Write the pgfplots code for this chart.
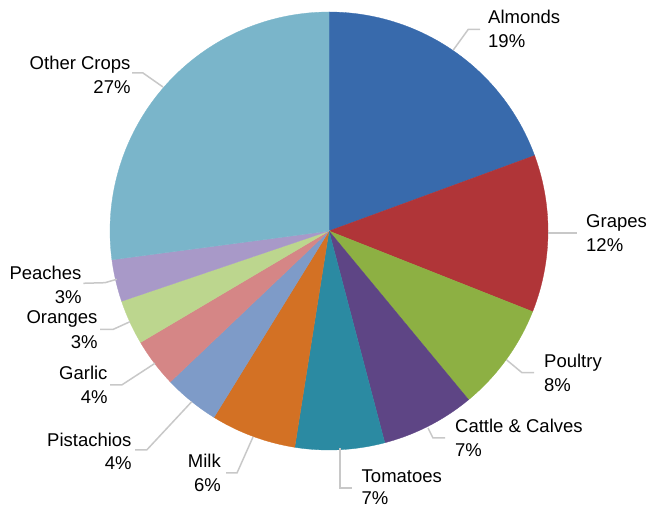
\documentclass[border=0pt]{standalone}
\usepackage{pgfplots}
\pgfplotsset{compat=1.18}
\usepackage{pgfplotstable}
\usepackage{fontspec}
\setmainfont{Liberation Sans}

\definecolor{cA}{RGB}{56,106,172}
\definecolor{cB}{RGB}{176,53,56}
\definecolor{cC}{RGB}{141,176,67}
\definecolor{cD}{RGB}{94,69,133}
\definecolor{cE}{RGB}{43,138,162}
\definecolor{cF}{RGB}{211,113,36}
\definecolor{cG}{RGB}{126,155,200}
\definecolor{cH}{RGB}{213,134,134}
\definecolor{cI}{RGB}{188,214,142}
\definecolor{cJ}{RGB}{168,153,200}
\definecolor{cK}{RGB}{122,181,202}
\definecolor{leader}{RGB}{200,200,200}

\tikzset{
  lw/.style={anchor=base west, font=\fontsize{18.5bp}{22bp}\selectfont, inner sep=0pt, text=black},
  le/.style={anchor=base east, font=\fontsize{18.5bp}{22bp}\selectfont, inner sep=0pt, text=black},
  ld/.style={leader, line width=1.5bp},
}

% share of each crop, in percent (clockwise from 12 o'clock)
\pgfplotstableread{
name value color
Almonds 19.4 cA
Grapes 11.6 cB
Poultry 8.0 cC
Cattle 6.9 cD
Tomatoes 6.6 cE
Milk 6.3 cF
Pistachios 4.1 cG
Garlic 3.6 cH
Oranges 3.3 cI
Peaches 3.1 cJ
Other 27.1 cK
}\piedata

\begin{document}
\begin{tikzpicture}
\begin{axis}[
  width=647bp, height=508bp, scale only axis,
  xmin=0, xmax=647, ymin=0, ymax=508,
  axis lines=none, clip=false,
]
\def\angstart{90}
\pgfplotsforeachungrouped \i in {0,...,10}{%
  \pgfplotstablegetelem{\i}{value}\of\piedata \let\v\pgfplotsretval
  \pgfplotstablegetelem{\i}{color}\of\piedata \let\c\pgfplotsretval
  \pgfmathsetmacro{\angend}{\angstart - 3.6*\v}%
  \edef\tmp{\noexpand\addplot[fill=\c, draw=\c, line width=0.3pt, domain=\angend:\angstart, samples=80]
     ({329+219*cos(x)},{277+219*sin(x)}) -- (axis cs:329,277) -- cycle;}%
  \tmp
  \global\let\angstart\angend
}

% leader lines
\draw[ld] (axis cs:453.3,458) -- (axis cs:468.3,478.7) -- (axis cs:480,478.7);
\draw[ld] (axis cs:548,275) -- (axis cs:577,275);
\draw[ld] (axis cs:506.7,148) -- (axis cs:522,135.3) -- (axis cs:534,135.3);
\draw[ld] (axis cs:428,80) -- (axis cs:433,70) -- (axis cs:445,70);
\draw[ld] (axis cs:340,60) -- (axis cs:340,20) -- (axis cs:352,20);
\draw[ld] (axis cs:253,71) -- (axis cs:237,35) -- (axis cs:226,35);
\draw[ld] (axis cs:191.7,106.3) -- (axis cs:146.7,58) -- (axis cs:135,58);
\draw[ld] (axis cs:155,144.7) -- (axis cs:121.7,123) -- (axis cs:110,123);
\draw[ld] (axis cs:130,186.3) -- (axis cs:113.3,178.7) -- (axis cs:100,178.7);
\draw[ld] (axis cs:116.7,228.7) -- (axis cs:105,225.3) -- (axis cs:83.3,224.7);
\draw[ld] (axis cs:163,421) -- (axis cs:143,435) -- (axis cs:132,435);

% labels
\node[lw] at (axis cs:488,484) {Almonds};
\node[lw] at (axis cs:488,460) {19\%};
\node[lw] at (axis cs:586,280) {Grapes};
\node[lw] at (axis cs:586,256) {12\%};
\node[lw] at (axis cs:544,140) {Poultry};
\node[lw] at (axis cs:544,116) {8\%};
\node[lw] at (axis cs:455,75) {Cattle \& Calves};
\node[lw] at (axis cs:455,51) {7\%};
\node[lw] at (axis cs:361.5,25) {Tomatoes};
\node[lw] at (axis cs:361.5,3) {7\%};
\node[le] at (axis cs:221,40) {Milk};
\node[le] at (axis cs:221,16.5) {6\%};
\node[le] at (axis cs:131.7,61.5) {Pistachios};
\node[le] at (axis cs:131.7,38) {4\%};
\node[le] at (axis cs:107.7,128) {Garlic};
\node[le] at (axis cs:107.7,104.7) {4\%};
\node[le] at (axis cs:97.7,184) {Oranges};
\node[le] at (axis cs:97.7,159.7) {3\%};
\node[le] at (axis cs:81.7,228.7) {Peaches};
\node[le] at (axis cs:81.7,204.7) {3\%};
\node[le] at (axis cs:130.7,438.7) {Other Crops};
\node[le] at (axis cs:130.7,414.7) {27\%};
\end{axis}
\pgfresetboundingbox
\path (current axis.south west) rectangle (current axis.north east);
\end{tikzpicture}
\end{document}
